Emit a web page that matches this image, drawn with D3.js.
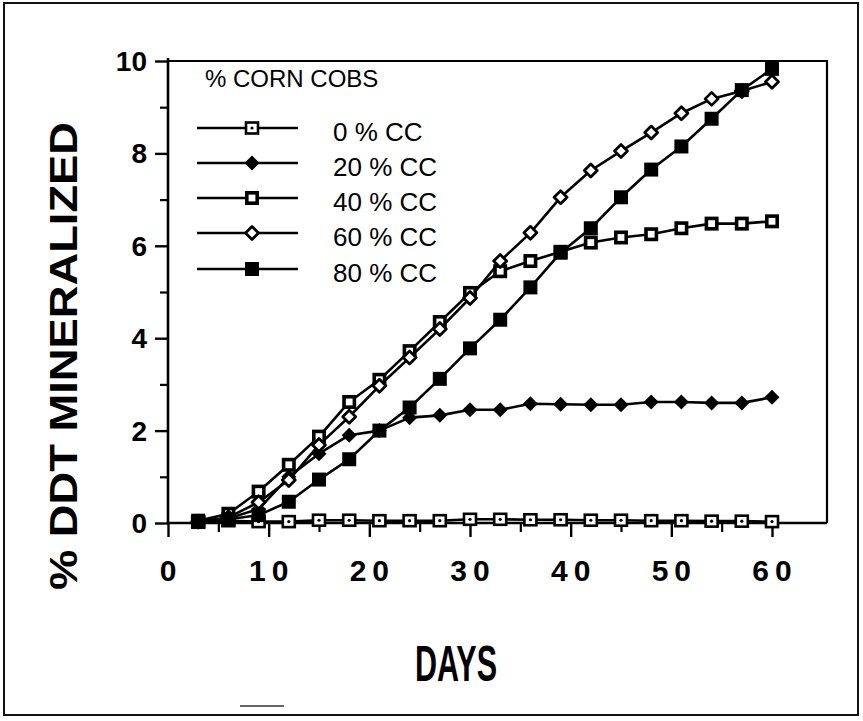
<!DOCTYPE html>
<html>
<head>
<meta charset="utf-8">
<script src="https://cdn.jsdelivr.net/npm/d3@7"></script>
<style>
  html, body { margin: 0; padding: 0; background: #fff; }
  svg { display: block; }
  text { font-family: "Liberation Sans", Arial, Helvetica, sans-serif; fill: #000; }
</style>
</head>
<body>
<svg id="chart" width="863" height="721"></svg>
<script>
// Sampling days (every 3 days)
const days = [3, 6, 9, 12, 15, 18, 21, 24, 27, 30, 33, 36, 39, 42, 45, 48, 51, 54, 57, 60];

// % DDT mineralized for each corn-cob amendment level
const cc0  = [0.02, 0.05, 0.03, 0.03, 0.06, 0.06, 0.05, 0.05, 0.05, 0.08, 0.08, 0.07, 0.07, 0.06, 0.06, 0.05, 0.05, 0.04, 0.04, 0.03];
const cc20 = [0.03, 0.10, 0.30, 1.00, 1.50, 1.90, 2.00, 2.28, 2.33, 2.45, 2.45, 2.58, 2.57, 2.56, 2.56, 2.62, 2.62, 2.60, 2.60, 2.72];
const cc40 = [0.05, 0.20, 0.68, 1.26, 1.87, 2.62, 3.10, 3.72, 4.35, 4.98, 5.45, 5.67, 5.87, 6.07, 6.18, 6.25, 6.38, 6.48, 6.48, 6.53];
const cc60 = [0.03, 0.12, 0.45, 0.93, 1.69, 2.30, 2.97, 3.58, 4.20, 4.87, 5.67, 6.28, 7.05, 7.63, 8.05, 8.45, 8.87, 9.18, 9.35, 9.55];
const cc80 = [0.02, 0.08, 0.17, 0.46, 0.94, 1.38, 2.00, 2.50, 3.12, 3.78, 4.40, 5.10, 5.85, 6.38, 7.05, 7.65, 8.15, 8.75, 9.37, 9.83];

const seriesNames = ["0 % CC", "20 % CC", "40 % CC", "60 % CC", "80 % CC"];
const seriesValues = [cc0, cc20, cc40, cc60, cc80];
const markerTypes = ["squareDot", "diamondFilled", "squareBold", "diamondOpen", "squareFilled"];

const xTicksMajor = [0, 10, 20, 30, 40, 50, 60];
const xTicksMinor = [5, 15, 25, 35, 45, 55];
const yTicksMajor = [0, 2, 4, 6, 8, 10];
const yTicksMinor = [1, 3, 5, 7, 9];

const legendTitle = "% CORN COBS";
const xTitle = "DAYS";
const yTitle = "% DDT MINERALIZED";

const svg = d3.select("#chart");

// outer frame
svg.append("rect")
  .attr("x", 4).attr("y", 3).attr("width", 854).attr("height", 712)
  .attr("fill", "none").attr("stroke", "#111").attr("stroke-width", 2);

const x = d3.scaleLinear().domain([0, 60]).range([168, 772]);
const y = d3.scaleLinear().domain([0, 10]).range([523, 61]);
const plotRight = 827;

const ink = "#000";

// plot box: top and right edges
svg.append("path")
  .attr("d", `M${x(0)},${y(10)} H${plotRight} V${y(0)}`)
  .attr("fill", "none").attr("stroke", ink).attr("stroke-width", 2.2);

// x axis
const gx = svg.append("g").attr("transform", `translate(0,${y(0)})`);
gx.append("line").attr("x1", x(0)).attr("x2", plotRight).attr("y1", 0).attr("y2", 0)
  .attr("stroke", ink).attr("stroke-width", 2.6);
gx.call(d3.axisBottom(x).tickValues(xTicksMajor).tickSize(14).tickFormat(""))
  .call(g => g.select(".domain").remove())
  .call(g => g.selectAll(".tick line").attr("stroke", ink).attr("stroke-width", 2.4));
gx.append("g").call(d3.axisBottom(x).tickValues(xTicksMinor).tickSize(9).tickFormat(""))
  .call(g => g.select(".domain").remove())
  .call(g => g.selectAll(".tick line").attr("stroke", ink).attr("stroke-width", 2.2));
gx.selectAll(".xlab").data(xTicksMajor).enter().append("text")
  .attr("class", "xlab")
  .attr("x", d => x(d))
  .attr("y", 58)
  .attr("text-anchor", "middle")
  .attr("font-size", 30)
  .attr("font-weight", "bold")
  .text(d => String(d).split("").join("\u2009"));

// y axis
const gy = svg.append("g").attr("transform", `translate(${x(0)},0)`);
gy.append("line").attr("x1", 0).attr("x2", 0).attr("y1", y(10) - 3).attr("y2", y(0))
  .attr("stroke", ink).attr("stroke-width", 2.6);
gy.call(d3.axisLeft(y).tickValues(yTicksMajor).tickSize(13).tickFormat(""))
  .call(g => g.select(".domain").remove())
  .call(g => g.selectAll(".tick line").attr("stroke", ink).attr("stroke-width", 2.4));
gy.append("g").call(d3.axisLeft(y).tickValues(yTicksMinor).tickSize(8).tickFormat(""))
  .call(g => g.select(".domain").remove())
  .call(g => g.selectAll(".tick line").attr("stroke", ink).attr("stroke-width", 2.2));
gy.selectAll(".ylab").data(yTicksMajor).enter().append("text")
  .attr("class", "ylab")
  .attr("x", -21)
  .attr("y", d => y(d) + 10)
  .attr("text-anchor", "end")
  .attr("font-size", 28)
  .attr("font-weight", "bold")
  .text(d => d);

// axis titles
svg.append("text")
  .attr("transform", "translate(77,356) rotate(-90)")
  .attr("text-anchor", "middle")
  .attr("font-size", 38)
  .attr("font-weight", "bold")
  .attr("textLength", 468)
  .attr("lengthAdjust", "spacingAndGlyphs")
  .text(yTitle);

svg.append("text")
  .attr("x", 456).attr("y", 681)
  .attr("text-anchor", "middle")
  .attr("font-size", 50)
  .attr("font-weight", "bold")
  .attr("textLength", 82)
  .attr("lengthAdjust", "spacingAndGlyphs")
  .text(xTitle);

// marker drawing
function drawMarker(g, type) {
  if (type === "squareDot") {
    g.append("rect").attr("x", -6).attr("y", -5.5).attr("width", 12).attr("height", 11)
      .attr("fill", "#fff").attr("stroke", ink).attr("stroke-width", 2.6);
    g.append("circle").attr("r", 1.6).attr("fill", ink);
  } else if (type === "diamondFilled") {
    g.append("path").attr("d", "M0,-7.5 L7.5,0 L0,7.5 L-7.5,0 Z").attr("fill", ink);
  } else if (type === "squareBold") {
    g.append("rect").attr("x", -5.2).attr("y", -5.2).attr("width", 10.4).attr("height", 10.4)
      .attr("fill", "#fff").attr("stroke", ink).attr("stroke-width", 3.6);
  } else if (type === "diamondOpen") {
    g.append("path").attr("d", "M0,-6.5 L6.5,0 L0,6.5 L-6.5,0 Z")
      .attr("fill", "#fff").attr("stroke", ink).attr("stroke-width", 2.8)
      .attr("stroke-linejoin", "round");
  } else if (type === "squareFilled") {
    g.append("rect").attr("x", -7).attr("y", -7).attr("width", 14).attr("height", 14).attr("fill", ink);
  }
}

const line = d3.line().x(d => x(d.day)).y(d => y(d.v));
const series = seriesValues.map((vals, i) => ({
  name: seriesNames[i],
  type: markerTypes[i],
  points: days.map((d, j) => ({ day: d, v: vals[j] }))
}));

const gSeries = svg.append("g");
series.forEach(s => {
  gSeries.append("path")
    .attr("d", line(s.points))
    .attr("fill", "none").attr("stroke", ink).attr("stroke-width", 2.6)
    .attr("stroke-linejoin", "round");
});
series.forEach(s => {
  s.points.forEach(p => {
    const m = gSeries.append("g").attr("transform", `translate(${x(p.day)},${y(p.v)})`);
    drawMarker(m, s.type);
  });
});

// legend
const lg = svg.append("g");
lg.append("text").attr("x", 205).attr("y", 87)
  .attr("font-size", 24).text(legendTitle);
const rowY = [128, 163, 198, 233, 269];
series.forEach((s, i) => {
  const r = lg.append("g").attr("transform", `translate(0,${rowY[i]})`);
  r.append("line").attr("x1", 197).attr("x2", 298).attr("y1", 0).attr("y2", 0)
    .attr("stroke", ink).attr("stroke-width", 2.6);
  const m = r.append("g").attr("transform", "translate(252,0)");
  drawMarker(m, s.type);
  r.append("text").attr("x", 333).attr("y", 13)
    .attr("font-size", 26).text(s.name);
});

// small stray rule near the bottom edge of the page
svg.append("line").attr("x1", 240).attr("x2", 284).attr("y1", 706).attr("y2", 706)
  .attr("stroke", "#333").attr("stroke-width", 1.5);
</script>
</body>
</html>
